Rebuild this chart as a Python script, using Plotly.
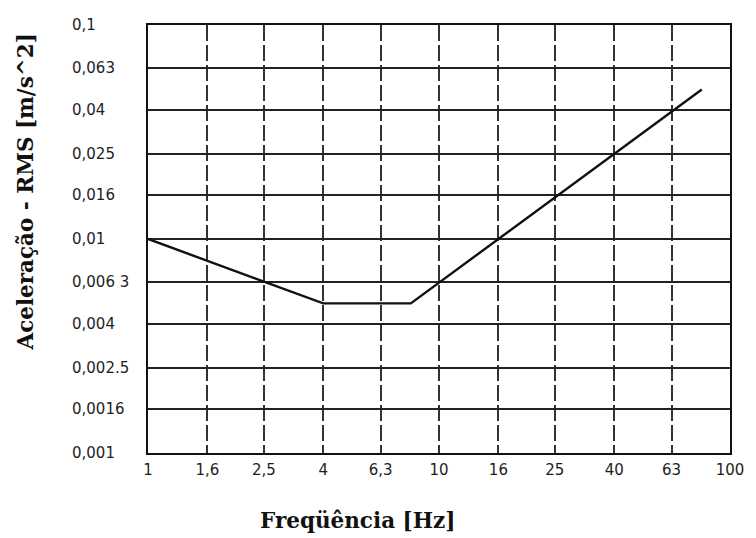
import math
import plotly.graph_objects as go

# Perception threshold curve (RMS acceleration vs. frequency)
freq_hz = [1, 4, 8, 80]
accel_rms = [0.01, 0.005, 0.005, 0.05]

# Axis ticks (1/5-decade steps)
x_tick_vals = [1, 1.6, 2.5, 4, 6.3, 10, 16, 25, 40, 63, 100]
x_tick_text = ["1", "1,6", "2,5", "4", "6,3", "10", "16", "25", "40", "63", "100"]
y_tick_vals = [0.1, 0.063, 0.04, 0.025, 0.016, 0.01, 0.0063, 0.004, 0.0025, 0.0016, 0.001]
y_tick_text = ["0,1", "0,063", "0,04", "0,025", "0,016", "0,01", "0,006 3",
               "0,004", "0,002.5", "0,0016", "0,001"]

tick_font = dict(family="DejaVu Sans", size=15, color="#1e1e1e")
title_font = dict(family="DejaVu Serif", size=21.5, color="#111111", weight="bold")

fig = go.Figure()
fig.add_trace(go.Scatter(
    x=freq_hz, y=accel_rms, mode="lines",
    line=dict(color="#111111", width=2.4),
    showlegend=False, hoverinfo="skip",
))

# Left-aligned value labels for the vertical axis
annotations = [
    dict(x=-0.134, xref="paper", y=math.log10(v), yref="y", text=t,
         showarrow=False, xanchor="left", yanchor="middle", font=tick_font)
    for v, t in zip(y_tick_vals, y_tick_text)
]
annotations.append(dict(
    x=-0.2105, xref="paper", y=0.612, yref="paper", text="Aceleração - RMS [m/s^2]",
    showarrow=False, textangle=-90, xanchor="center", yanchor="middle", font=title_font,
))
annotations.append(dict(
    x=0.36, xref="paper", y=-0.158, yref="paper", text="Freqüência [Hz]",
    showarrow=False, xanchor="center", yanchor="middle", font=title_font,
))

fig.update_layout(
    width=756, height=538,
    margin=dict(l=148, r=18, t=25, b=85),
    paper_bgcolor="white", plot_bgcolor="white",
    annotations=annotations,
    xaxis=dict(
        type="log", range=[0, 2],
        tickvals=x_tick_vals, ticktext=x_tick_text, tickfont=tick_font,
        showgrid=True, gridcolor="#333333", gridwidth=1.6, griddash="16px,4px",
        showline=True, linecolor="#111111", linewidth=2, mirror=True,
        ticks="", ticklabelstandoff=2, zeroline=False,
    ),
    yaxis=dict(
        type="log", range=[-3, -1],
        tickvals=y_tick_vals, showticklabels=False,
        showgrid=True, gridcolor="#222222", gridwidth=1.8,
        showline=True, linecolor="#111111", linewidth=2, mirror=True,
        ticks="", zeroline=False,
    ),
)

fig.write_html("out.html")
